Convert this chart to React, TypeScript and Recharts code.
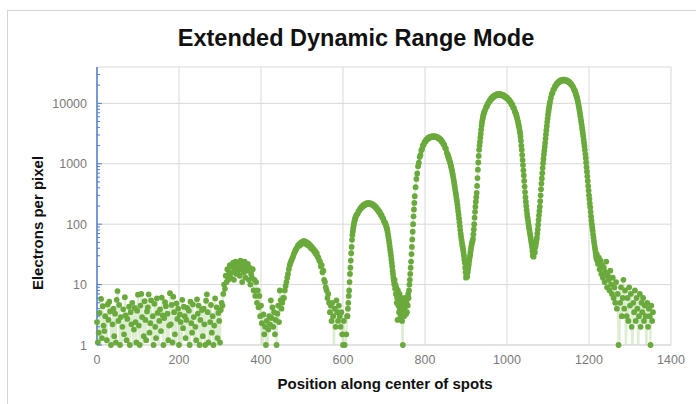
import React from 'react';
import { LineChart, Line, XAxis, YAxis, CartesianGrid } from 'recharts';

const TITLE = 'Extended Dynamic Range Mode';
const X_TITLE = 'Position along center of spots';
const Y_TITLE = 'Electrons per pixel';

const X_TICKS = [0, 200, 400, 600, 800, 1000, 1200, 1400];
const Y_DECADES = [1, 10, 100, 1000, 10000];
const Y_TICKS = [
  1, 2, 3, 4, 5, 6, 7, 8, 9,
  10, 20, 30, 40, 50, 60, 70, 80, 90,
  100, 200, 300, 400, 500, 600, 700, 800, 900,
  1000, 2000, 3000, 4000, 5000, 6000, 7000, 8000, 9000,
  10000, 20000, 30000,
];
const Y_MAX = 40000;
const GRID_Y = [1, 10, 100, 1000, 10000, 40000];

// Sampled profile along the spots: each segment = first position, spacing, electron counts.
// 0.5 marks pixels that read zero (below the axis floor).
const SEG1_START = 0;
const SEG1_STEP = 2;
const SEG1_Y = [
  2.4, 1.1, 1.6, 3.4, 0.5, 5.8, 1.3, 4.4, 2.1, 1.7,
  3.0, 0.5, 1.2, 4.7, 2.6, 5.2, 3.6, 1.0, 0.5, 2.2,
  4.0, 1.4, 3.3, 1.1, 5.6, 7.8, 2.5, 4.6, 1.0, 2.9,
  0.5, 2.0, 3.9, 1.5, 6.2, 3.1, 1.2, 2.7, 0.5, 4.3,
  1.0, 3.5, 2.2, 5.0, 0.5, 1.8, 4.1, 2.4, 1.1, 3.7,
  6.8, 2.1, 1.0, 4.5, 7.0, 2.9, 0.5, 1.4, 5.3, 2.6,
  1.2, 3.6, 4.2, 6.9, 1.6, 2.3, 5.5, 0.5, 3.0, 1.0,
  4.8, 2.0, 1.3, 5.9, 3.4, 0.5, 2.5, 3.9, 1.7, 6.1,
  3.1, 1.0, 2.8, 5.1, 4.4, 0.5, 3.3, 1.2, 2.1, 7.2,
  2.2, 4.6, 1.1, 6.3, 3.5, 1.5, 0.5, 4.9, 2.7, 4.0,
  1.0, 3.2, 2.4, 0.5, 5.6, 1.9, 4.3, 3.0, 1.3, 2.6,
  4.1, 0.5, 3.7, 1.0, 5.2, 2.3, 1.6, 4.7, 2.9, 0.5,
  2.0, 1.2, 5.7, 3.3, 4.5, 1.0, 2.6, 0.5, 3.8, 1.4,
  4.0, 2.2, 1.0, 5.4, 6.9, 3.5, 1.1, 0.5, 2.4, 4.6,
  1.6, 3.0, 1.0, 2.1, 5.9, 0.5, 4.2, 1.3, 3.4, 2.5,
  1.1, 3.8, 5.0,
  4.5, 7, 10, 8.5, 14, 11, 18, 12, 15, 21,
  13, 20, 16, 23, 12, 19, 24, 15, 21, 17,
  22, 14, 25, 18, 11, 21, 16, 24, 13, 20,
  17, 22, 12, 19, 10, 15, 13, 18, 8, 12,
  6.5, 11, 5, 8, 4.2, 6.5, 3, 4.5,
  2.3, 0.5, 3.2, 1.5, 2, 1, 2.5, 0.5, 1.8, 3,
  2.2, 5.5, 2.8, 4.2, 2, 3.5, 1.5, 2.6, 1, 3.3,
  4.5, 2.4, 8, 5.5, 4, 5, 6,
];

const SEG2_START = 456;
const SEG2_STEP = 2;
const SEG2_Y = [
  6, 8, 9.5, 11, 13, 15, 18, 21, 23, 25,
  27, 29, 32, 34, 37, 39, 41, 44, 46, 44,
  49, 47, 51, 48, 53, 49, 52, 47, 50, 45,
  48, 43, 45, 40, 42, 38, 39, 35, 36, 32,
  33, 29, 28, 25, 24, 20, 21, 16, 17, 12,
  11, 9, 8, 6, 7, 5, 3.5, 4.5, 2.5, 5,
  3, 0.5, 4, 2, 5.5, 3.5, 2.5, 4.5, 3, 2,
  3.5, 1.5, 1, 2.5, 1, 0.5, 1.5, 3,
];

const SEG3_START = 611;
const SEG3_STEP = 1;
const SEG3_Y = [
  3, 4, 5, 6.5, 8, 11, 15, 19, 25, 33, 42, 55, 66, 76, 86, 95, 104, 112, 120, 127, 133, 139,
];

const SEG4_START = 634;
const SEG4_STEP = 2;
const SEG4_Y = [
  145, 150, 165, 168, 182, 183, 197, 195, 209, 204,
  216, 211, 222, 216, 226, 218, 224, 214, 219, 207,
  211, 198, 200, 185, 187, 172, 173, 158, 159, 143,
  142, 128, 125, 111, 108,
];

const SEG5_START = 703;
const SEG5_STEP = 1;
const SEG5_Y = [
  103, 100, 95, 90, 85, 79, 73, 66, 60, 54,
  48, 43, 38, 34, 30, 26, 23, 20, 17, 15,
  13, 11.5, 10, 12, 8.5, 10, 7, 9, 5, 6,
  2.6, 8, 4.5, 6, 3.5, 7, 4, 5, 3, 6,
  4.5, 2.5, 0.5, 1, 3.5, 5, 3, 4, 6, 3.2,
  4.5, 3.3, 5, 3.5, 6, 4.5, 7, 6, 8, 10,
  12, 15, 19, 24, 32, 42, 56, 75, 100, 135,
  175, 225, 290,
];

const SEG6_START = 777;
const SEG6_STEP = 2;
const SEG6_Y = [
  410, 560, 690, 910, 1040, 1290, 1400, 1670, 1760, 2030,
  2070, 2300, 2320, 2520, 2500, 2680, 2630, 2790, 2720, 2850,
  2770, 2880, 2780, 2870, 2760, 2840, 2710, 2770, 2620, 2650,
  2490, 2500, 2320, 2300, 2110, 2070, 1840, 1780, 1530, 1440,
];

const SEG7_START = 856;
const SEG7_STEP = 1;
const SEG7_Y = [
  1350, 1300, 1240, 1180, 1120, 1060, 1000, 940, 880, 820,
  760, 700, 650, 590, 540, 490, 440, 400, 360, 325,
  295, 265, 240, 210, 185, 162, 142, 124, 108, 92,
  80, 70, 62, 55, 50, 45, 42, 38, 34, 30,
  26, 23, 19, 16, 13, 14, 15, 13.5, 16, 18,
  20, 22, 25, 28, 31, 35, 39, 43, 47, 50,
  53, 57, 68, 82, 100, 128, 160, 195, 235, 280,
  330, 430, 580, 800, 1050, 1350, 1700, 2000, 2300, 2700,
  3150, 3700, 4300, 4800, 5300, 5800, 6200, 6600, 7000, 7300,
];

const SEG8_START = 947;
const SEG8_STEP = 2;
const SEG8_Y = [
  7900, 8700, 8900, 9900, 10100, 11100, 11000, 12100, 11900, 12900,
  12600, 13500, 13200, 14000, 13600, 14300, 13800, 14400, 13800, 14200,
  13600, 13900, 13200, 13500, 12700, 12900, 12100, 12300, 11400, 11500,
  10600, 10600, 9600, 9600, 8500, 8400, 7400,
];

const SEG9_START = 1020;
const SEG9_STEP = 1;
const SEG9_Y = [
  7200, 6900, 6600, 6300, 5900, 5600, 5200, 4900, 4500, 4200,
  3900, 3500, 3200, 2800, 2400, 2000, 1700, 1400, 1150, 950,
  780, 640, 520, 420, 340, 280, 235, 200, 170, 148,
  130, 118, 105, 95, 86, 78, 70, 64, 58, 52,
  47, 42, 36, 30, 33, 29, 35, 38, 34, 42,
  45, 50, 55, 60, 70, 82, 98, 118, 140, 165,
  195, 240, 300, 380, 470, 570, 700, 850, 1020, 1200,
  1420, 1650, 1900, 2200, 2600, 3050, 3600, 4200, 4900, 5600,
  6400, 7200, 8000, 8900, 9800, 10700,
];

const SEG10_START = 1107;
const SEG10_STEP = 2;
const SEG10_Y = [
  12300, 14200, 14900, 16900, 17400, 19300, 19400, 21200, 21100, 22700,
  22400, 23800, 23300, 24500, 23800, 24800, 23900, 24700, 23600, 24300,
  23100, 23500, 22200, 22400, 20900, 20900, 19300, 19000, 17300, 16500,
];

const SEG11_START = 1166;
const SEG11_STEP = 1;
const SEG11_Y = [
  15700, 15000, 14300, 13600, 12900, 12200, 11400, 10600, 9800, 9000,
  8200, 7500, 6800, 6100, 5500, 5000, 4500, 4000, 3600, 3200,
  2850, 2500, 2200, 1950, 1700, 1450, 1250, 1050, 880, 740,
  620, 520, 430, 360, 300, 260, 220, 190, 160, 135,
  115, 100, 88, 78, 68, 60, 53, 47, 42, 38,
  34, 30, 27, 32, 25,
];

const SEG12_START = 1222;
const SEG12_STEP = 2;
const SEG12_Y = [
  22, 28, 18, 25, 15, 21, 13, 19, 11, 16,
  24, 9, 14, 12, 8, 17, 10, 7, 13, 6,
  9, 5, 11, 4, 7, 1, 0.5, 5, 9, 3,
  6, 12, 4, 8, 0.5, 3, 6, 2.5, 9, 4.5,
  7, 2, 0.5, 5, 3.5, 8, 2.5, 6, 4, 0.5,
  3, 7, 2, 5, 3.5, 6, 2.5, 4.5, 3, 0.5,
  5, 2, 4, 3, 1, 4.5, 2.5, 3.5,
];

const SEGMENTS = [
  { start: SEG1_START, step: SEG1_STEP, values: SEG1_Y },
  { start: SEG2_START, step: SEG2_STEP, values: SEG2_Y },
  { start: SEG3_START, step: SEG3_STEP, values: SEG3_Y },
  { start: SEG4_START, step: SEG4_STEP, values: SEG4_Y },
  { start: SEG5_START, step: SEG5_STEP, values: SEG5_Y },
  { start: SEG6_START, step: SEG6_STEP, values: SEG6_Y },
  { start: SEG7_START, step: SEG7_STEP, values: SEG7_Y },
  { start: SEG8_START, step: SEG8_STEP, values: SEG8_Y },
  { start: SEG9_START, step: SEG9_STEP, values: SEG9_Y },
  { start: SEG10_START, step: SEG10_STEP, values: SEG10_Y },
  { start: SEG11_START, step: SEG11_STEP, values: SEG11_Y },
  { start: SEG12_START, step: SEG12_STEP, values: SEG12_Y },
];

const DATA = SEGMENTS.flatMap((s) =>
  s.values.map((v, i) => ({ x: s.start + i * s.step, y: v }))
);

const FONT = '"Liberation Sans", Arial, Helvetica, sans-serif';
const AXIS_BLUE = '#4f7fd0';
const GRID = '#d9d9d9';
const TICK_COLOR = '#7a7a7a';
const DOT = '#6aaa3c';

function YTick(props: any) {
  const { x, y, payload } = props;
  const v = payload.value;
  const major = Y_DECADES.includes(v);
  const axisX = x + 10;
  return (
    <g>
      <line x1={axisX} x2={axisX + (major ? 5 : 3)} y1={y} y2={y} stroke={AXIS_BLUE} strokeWidth={1} />
      {major ? (
        <text x={x} y={y} dy={4.5} textAnchor="end" fontSize={12.5} fill={TICK_COLOR} fontFamily={FONT}>
          {v}
        </text>
      ) : null}
    </g>
  );
}

export default function App() {
  return (
    <div
      style={{
        position: 'absolute',
        left: 0,
        top: 0,
        width: 696,
        height: 404,
        background: '#fff',
        overflow: 'hidden',
        fontFamily: FONT,
      }}
    >
      <div
        style={{
          position: 'absolute',
          left: 7,
          top: 10,
          width: 720,
          height: 420,
          border: '1px solid #d4d4d4',
          boxSizing: 'border-box',
        }}
      />
      <div style={{ position: 'absolute', left: 0, top: 0 }}>
        <LineChart
          width={696}
          height={404}
          data={DATA}
          margin={{ top: 67, right: 25, bottom: 29, left: 0 }}
        >
          <CartesianGrid stroke={GRID} strokeWidth={1} horizontalValues={GRID_Y} />
          <XAxis
            dataKey="x"
            type="number"
            domain={[0, 1400]}
            ticks={X_TICKS}
            interval={0}
            height={30}
            tickSize={0}
            tickMargin={10}
            tickLine={false}
            axisLine={{ stroke: GRID }}
            tick={{ fill: TICK_COLOR, fontSize: 12.5, fontFamily: FONT }}
          />
          <YAxis
            dataKey="y"
            scale="log"
            type="number"
            domain={[1, Y_MAX]}
            allowDataOverflow
            ticks={Y_TICKS}
            interval={0}
            width={97}
            tickSize={0}
            tickMargin={10}
            tickLine={false}
            axisLine={{ stroke: AXIS_BLUE, strokeWidth: 1.5 }}
            tick={(p: any) => <YTick {...p} />}
          />
          <Line
            type="linear"
            dataKey="y"
            stroke="#a9d18e"
            strokeOpacity={0.4}
            strokeWidth={2}
            dot={{ r: 2.9, fill: DOT, stroke: 'none', strokeWidth: 0, clipDot: false }}
            activeDot={false}
            isAnimationActive={false}
          />
        </LineChart>
      </div>
      <div
        style={{
          position: 'absolute',
          left: 356,
          top: 38,
          transform: 'translate(-50%, -50%)',
          fontSize: 23.5,
          fontWeight: 'bold',
          color: '#111',
          whiteSpace: 'nowrap',
        }}
      >
        {TITLE}
      </div>
      <div
        style={{
          position: 'absolute',
          left: 385,
          top: 383,
          transform: 'translate(-50%, -50%)',
          fontSize: 15,
          fontWeight: 'bold',
          color: '#111',
          whiteSpace: 'nowrap',
        }}
      >
        {X_TITLE}
      </div>
      <div
        style={{
          position: 'absolute',
          left: 37,
          top: 223,
          transform: 'translate(-50%, -50%) rotate(-90deg)',
          fontSize: 15,
          fontWeight: 'bold',
          color: '#111',
          whiteSpace: 'nowrap',
        }}
      >
        {Y_TITLE}
      </div>
    </div>
  );
}
